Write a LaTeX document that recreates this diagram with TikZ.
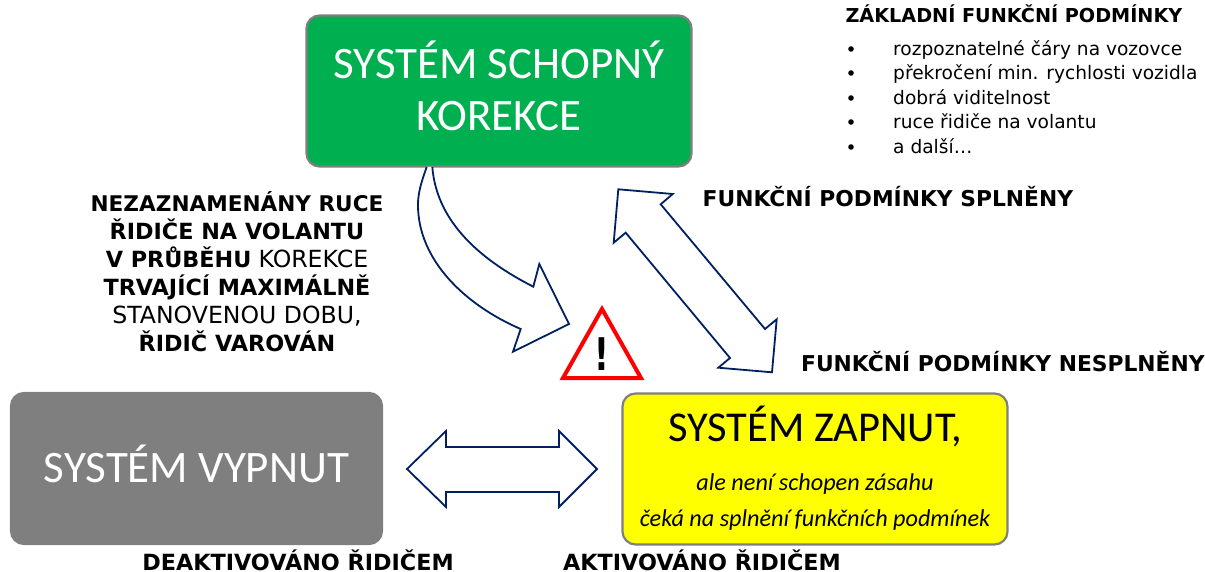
\documentclass[tikz,border=0pt]{standalone}
\usepackage{fontspec}
\setmainfont{DejaVu Sans}
\newfontfamily\boxfont{Carlito}
\definecolor{arrowblue}{RGB}{0,32,96}
\definecolor{boxgreen}{RGB}{0,176,80}
\definecolor{boxgray}{RGB}{127,127,127}
\definecolor{boxyellow}{RGB}{255,255,0}
\newcommand{\midword}[1]{{\fontsize{23.6}{28}\selectfont #1}}
\newcommand{\firstword}[1]{{\fontsize{21.6}{28}\selectfont\bfseries #1}}
\begin{document}
\begin{tikzpicture}[
        x=1pt, y=-1pt,
        statebox/.style={rounded corners=13pt, minimum width=385pt, minimum height=151pt, inner sep=0pt, line width=2.2pt, draw=boxgray},
        boxtitle/.style={font=\boxfont\fontsize{45}{52}\selectfont, inner sep=0pt, align=center},
        boxnote/.style={font=\boxfont\itshape\fontsize{24.2}{28}\selectfont, text=black, inner sep=0pt},
        blockarrow/.style={draw=arrowblue, line width=1.8pt, line join=miter, fill=white},
        label/.style={font=\fontsize{21.8}{28}\selectfont, text=black, inner sep=0pt},
        item/.style={font=\fontsize{18.6}{20}\selectfont, text=black, anchor=base west, inner sep=0pt}
    ]
        \useasboundingbox (0,0) rectangle (1205,572);

        % states
        \node[statebox, fill=boxgreen] (schopny) at (499,91) {};
        \node[boxtitle, text=white] (schopnyText) at (499,86) {SYSTÉM SCHOPNÝ\\ KOREKCE};
        \node[statebox, fill=boxgray, minimum width=371pt] (vypnut) at (196.5,468.5) {};
        \node[boxtitle, text=white] (vypnutText) at (196.5,464) {SYSTÉM VYPNUT};
        \node[statebox, fill=boxyellow] (zapnut) at (815,469) {};
        \node[boxtitle, text=black, font=\boxfont\fontsize{42.5}{50}\selectfont] (zapnutA) at (815,426) {SYSTÉM ZAPNUT,};
        \node[boxnote] (zapnutB) at (815,484) {ale není schopen zásahu};
        \node[boxnote] (zapnutC) at (815,520) {čeká na splnění funkčních podmínek};

        % block arrows
        \draw[blockarrow] (426.7,167) .. controls (421,183) and (418,193) .. (418,205) .. controls (418,260) and (465,305) .. (520.7,329) -- (513,351.7) -- (569,324) -- (539.3,264) -- (533.3,286.7) .. controls (485,262) and (437,225) .. (432.3,167);
        \draw[blockarrow] (618.3,189.3) -- (672.7,194) -- (660.7,204.3) -- (765,329) -- (776.7,319.3) -- (772,372.3) -- (718.3,367.7) -- (730,358) -- (625.7,232.7) -- (613.7,242.7) -- cycle;
        \draw[blockarrow] (407,469) -- (446,431) -- (446,447) -- (559,447) -- (559,431) -- (597,469) -- (559,507) -- (559,492) -- (446,492) -- (446,507) -- cycle;

        % warning sign
        \draw[red, line width=4pt, line join=miter, fill=white] (602,309) -- (563,378) -- (641,378) -- cycle;
        \node[inner sep=0pt, xscale=0.72, font=\fontsize{45}{48}\selectfont\bfseries] (vykricnik) at (602,354) {!};

        % labels
        \node[label, align=center, font=\fontsize{22.3}{28}\selectfont] (nezaznamenano) at (237,272) {\firstword{NEZAZNAMENÁNY RUCE}\\ \textbf{ŘIDIČE NA VOLANTU}\\ \textbf{V PRŮBĚHU} \midword{KOREKCE}\\ \textbf{TRVAJÍCÍ MAXIMÁLNĚ}\\ \midword{STANOVENOU DOBU,}\\ \textbf{ŘIDIČ VAROVÁN}};
        \node[label] (splneny) at (888,197) {\textbf{FUNKČNÍ PODMÍNKY SPLNĚNY}};
        \node[label] (nesplneny) at (1003,362) {\textbf{FUNKČNÍ PODMÍNKY NESPLNĚNY}};
        \node[label, font=\fontsize{22.3}{28}\selectfont] (deaktivovano) at (298,560) {\textbf{DEAKTIVOVÁNO ŘIDIČEM}};
        \node[label, font=\fontsize{22.3}{28}\selectfont] (aktivovano) at (702,560) {\textbf{AKTIVOVÁNO ŘIDIČEM}};
        \node[label, font=\fontsize{19.2}{20}\selectfont] (zakladni) at (1014,14) {\textbf{ZÁKLADNÍ FUNKČNÍ PODMÍNKY}};

        \foreach \y/\txt in {56/rozpoznatelné čáry na vozovce, 80/překročení min. rychlosti vozidla, 105/dobrá viditelnost, 129/ruce řidiče na volantu, 154/a další\dots} {
            \node[item] at (893,\y) {\txt};
            \fill[black] (851,\y-7) circle (2.8pt);
        }
    \end{tikzpicture}
\end{document}
